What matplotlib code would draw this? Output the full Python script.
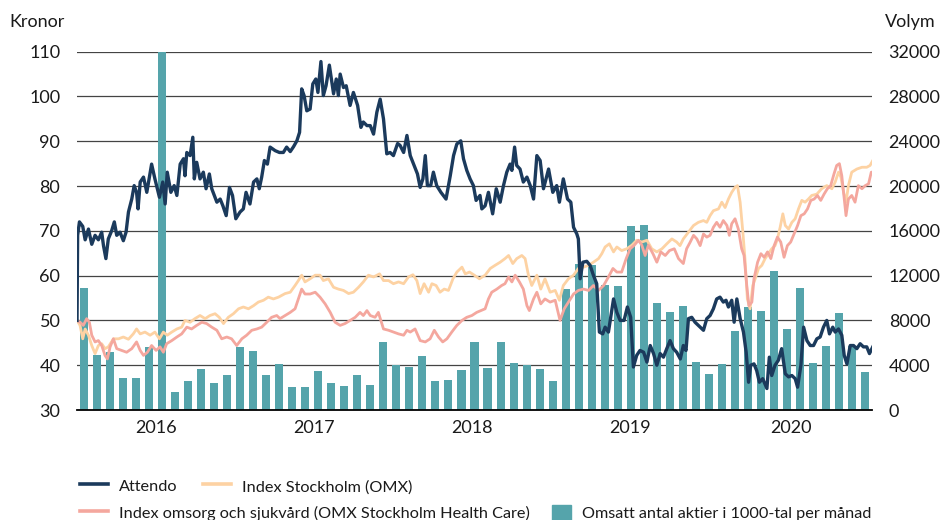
import matplotlib.pyplot as plt
import numpy as np
from matplotlib.lines import Line2D
from matplotlib.patches import Patch

plt.rcParams['font.family'] = ['Lato', 'DejaVu Sans']

# Omsatt antal aktier i 1000-tal per månad, dec 2015 - dec 2020
volym = [10870, 4910, 5180, 2880, 2880, 5620, 32000, 1610, 2590, 3660,
         2410, 3130, 5620, 5270, 3130, 4110, 2050, 2050, 3480, 2410,
         2140, 3130, 2230, 6070, 4020, 3840, 4820, 2590, 2680, 3570,
         6070, 3780, 6070, 4210, 4020, 3670, 2590, 10790, 13020, 12950,
         11160, 11100, 16430, 16520, 9580, 8780, 9290, 4290, 3210, 4110,
         7050, 9230, 8840, 12410, 7230, 10890, 4200, 5720, 8660, 5700,
         3390]

# (vecka sedan 1 dec 2015, kronor)
attendo = [
    (0, 50), (0.2, 69), (0.8, 72), (1.9, 71), (2.7, 68), (3.8, 70.4), (4.9, 67), (6.0, 69),
    (7.1, 68), (8.2, 69.7), (8.8, 66.7), (9.6, 63.8), (10.4, 68.2), (11.5, 70), (12.4, 72),
    (13.2, 69), (14.3, 69.7), (15.4, 67.8), (16.3, 69.7), (17.1, 74.2), (18.2, 77.1),
    (19.0, 80.1), (19.8, 78.6), (20.3, 74.9), (21.0, 80.9), (22.1, 82), (23.2, 78.6),
    (24.8, 84.9), (25.9, 81.6), (27.4, 77.5), (28.5, 80.9), (29.3, 76), (30.0, 83.1),
    (31.2, 78.6), (32.3, 80.1), (33.2, 77.9), (34.3, 84.9), (35.4, 86.1), (35.9, 82.3),
    (36.5, 87.5), (37.6, 86.8), (38.5, 90.9), (39.0, 81.6), (39.8, 85.3), (40.9, 81.6),
    (42.0, 83.1), (42.9, 79.4), (44.0, 82.7), (44.8, 79.4), (46.5, 76.4), (47.6, 77.1),
    (48.5, 75.6), (49.6, 73.4), (50.7, 79.7), (51.7, 77.9), (52.8, 72.7), (54.2, 74.2),
    (55.3, 74.9), (56.2, 78.6), (57.5, 76), (58.7, 80.9), (59.8, 81.6), (60.6, 79.4),
    (61.4, 82), (62.3, 85.7), (63.3, 84.9), (64.2, 88.7), (65.9, 87.9), (67.3, 87.5),
    (68.6, 87.5), (69.7, 88.7), (70.9, 87.7), (72.0, 88.8), (73.1, 90.1), (74.0, 92),
    (74.7, 101.7), (75.5, 100.2), (76.4, 96.8), (77.5, 97.2), (78.4, 102.8), (79.4, 103.9),
    (80.1, 100.9), (81.1, 107.8), (81.9, 100.2), (82.8, 102.4), (83.9, 107), (85.3, 100.6),
    (86.2, 103.9), (86.9, 100.2), (87.5, 105), (88.6, 102), (89.5, 102.4), (90.8, 98),
    (91.9, 100.9), (93.3, 98), (94.4, 93.1), (95.2, 94.3), (96.4, 93.5), (97.5, 93.5),
    (98.6, 91.6), (99.7, 96.5), (100.8, 99.4), (101.9, 95), (103.0, 87.2), (104.1, 87.5),
    (105.2, 86.8), (106.6, 89.5), (107.4, 89.1), (108.6, 87.5), (109.7, 91.3), (110.8, 86.8),
    (112.1, 84.6), (113.2, 82.7), (114.1, 79.7), (115.0, 81.6), (115.8, 86.8), (116.5, 80.1),
    (117.6, 80.1), (118.5, 83.1), (119.6, 80.1), (121.0, 78.6), (122.7, 77.1), (124.1, 82.3),
    (125.2, 86.8), (126.3, 89.4), (127.6, 90.1), (128.5, 86.1), (129.6, 83.5), (130.7, 81.6),
    (131.8, 80.1), (132.7, 76.8), (134.0, 77.9), (134.6, 74.9), (135.7, 75.6), (136.8, 78.6),
    (138.2, 73.8), (139.4, 79.4), (140.7, 76.4), (141.8, 80.1), (142.9, 83.1), (144.0, 84.9),
    (144.6, 83.5), (145.5, 88.7), (146.2, 84.6), (147.3, 83.8), (148.4, 80.9), (149.6, 82),
    (150.7, 80.1), (151.8, 77.1), (152.9, 86.8), (154.0, 85.7), (155.1, 79.4), (156.8, 83.8),
    (158.2, 78.6), (159.5, 80.1), (160.4, 76.4), (161.7, 81.6), (163.1, 77.1), (164.2, 76.4),
    (165.1, 70.8), (166.2, 69.3), (166.7, 68.2), (167.3, 59.3), (168.2, 63), (169.5, 63.2),
    (170.6, 62.3), (171.7, 60.1), (172.8, 58.2), (173.7, 47.4), (174.8, 47), (175.6, 48.5),
    (176.7, 47.4), (178.4, 54.8), (179.5, 51.8), (180.6, 50), (181.9, 50), (183.0, 53),
    (184.1, 50.7), (185.0, 39.6), (186.1, 42.2), (187.2, 43.3), (188.4, 42.9), (189.5, 40.7),
    (190.6, 44.4), (191.7, 42.6), (192.8, 40), (193.9, 42.6), (195.0, 41.8), (196.1, 43.7),
    (197.2, 45.5), (198.3, 43.7), (199.4, 42.9), (200.6, 41.4), (201.6, 44.4), (202.5, 43.3),
    (203.3, 50.4), (204.4, 50.7), (205.5, 49.6), (206.6, 48.9), (208.3, 47.8), (209.4, 50.4),
    (210.5, 51.1), (211.6, 52.6), (212.7, 54.8), (213.8, 55.2), (214.9, 54.1), (215.8, 54.5),
    (216.6, 53), (217.7, 54.5), (218.5, 49.6), (219.4, 54.8), (220.5, 50.4), (221.6, 47.4),
    (222.5, 42.9), (223.3, 36.2), (224.0, 40), (225.1, 40.3), (226.0, 38.8), (226.9, 36.2),
    (228.0, 37), (229.4, 34.8), (230.2, 41.8), (231.0, 37.7), (232.1, 40), (233.2, 41.1),
    (234.3, 43.7), (235.5, 38.1), (236.6, 37.4), (237.7, 37.7), (238.8, 37), (239.6, 35.1),
    (240.7, 40), (241.6, 48.5), (242.7, 45.5), (243.8, 44.4), (244.9, 44.4), (246.0, 45.9),
    (247.1, 46.3), (248.2, 48.5), (249.3, 50), (250.2, 47), (251.3, 48.5), (252.1, 47.4),
    (253.2, 48.1), (254.3, 46.7), (255.1, 42.2), (256.0, 40.3), (257.1, 44.4), (258.2, 44.4),
    (259.3, 43.7), (260.4, 44.8), (261.5, 44.1), (262.6, 44.1), (263.5, 42.6), (264.6, 44.1),
]

omx = [
    (0, 50), (1.0, 48.9), (1.9, 45.9), (2.7, 48.1), (3.8, 46.7), (4.9, 44.4), (6.0, 42.6),
    (7.1, 44.4), (8.2, 44.8), (9.3, 43.7), (10.4, 44.1), (12.1, 45.9), (13.8, 45.9),
    (15.4, 46.3), (17.1, 45.8), (18.7, 47), (19.8, 48.1), (21.0, 47), (22.6, 47.4),
    (24.3, 46.7), (25.9, 47.4), (27.4, 45.9), (28.7, 47.4), (30.0, 46.7), (31.5, 47.4),
    (33.2, 48.1), (34.8, 48.5), (35.9, 50), (37.6, 49.6), (39.2, 50.4), (40.9, 51.1),
    (42.6, 50.4), (44.2, 51.1), (45.9, 51.5), (47.3, 50.7), (48.7, 49.3), (50.3, 50.7),
    (52.0, 51.5), (53.7, 52.6), (55.3, 53), (57.0, 52.6), (58.7, 53.3), (60.3, 54.1),
    (62.0, 54.5), (63.6, 55.2), (65.3, 54.8), (67.0, 55.2), (69.2, 56), (70.9, 56.3),
    (72.5, 57.8), (73.6, 58.9), (74.7, 60.1), (75.8, 58.6), (77.5, 59.3), (79.2, 60.1),
    (80.8, 60.1), (81.9, 58.9), (83.6, 59.3), (85.3, 57.4), (86.9, 57), (88.6, 56.7),
    (90.3, 56), (91.9, 56.3), (93.6, 57.4), (95.2, 58.6), (96.9, 60.1), (98.6, 59.7),
    (100.6, 60.4), (101.9, 58.9), (103.6, 58.9), (105.2, 58.2), (106.9, 58.6), (108.6, 58.2),
    (110.2, 59.7), (111.7, 60.2), (113.0, 58.9), (114.1, 56), (115.4, 58.2), (116.9, 56.3),
    (118.0, 58.2), (119.4, 57.8), (120.7, 56.3), (122.1, 57), (123.5, 56.7), (125.0, 59.3),
    (126.3, 60.8), (128.0, 61.9), (129.1, 60.4), (130.5, 60.8), (132.1, 60.1), (133.8, 59.3),
    (135.7, 60.1), (137.4, 61.6), (139.0, 62.3), (140.7, 63), (142.3, 63.8), (143.5, 64.5),
    (144.9, 62.7), (146.2, 63.8), (147.9, 64.5), (149.0, 63.8), (150.1, 60.1), (151.2, 57.8),
    (152.9, 60.1), (154.2, 57), (155.6, 59.3), (157.3, 56.3), (159.0, 56.7), (160.4, 54.5),
    (161.7, 57.8), (163.4, 59.3), (165.1, 60.1), (166.7, 61.6), (168.4, 61.9), (170.1, 62.3),
    (171.7, 63), (173.4, 63.8), (174.5, 64.9), (175.6, 66.4), (177.0, 67.1), (178.4, 65.3),
    (179.5, 66.4), (181.1, 65.6), (182.8, 66), (184.5, 66.8), (186.1, 67.9), (187.8, 67.5),
    (189.5, 67.9), (191.1, 66), (192.8, 65.3), (194.5, 66), (196.1, 67.1), (197.8, 68.2),
    (199.4, 67.5), (200.5, 66.7), (201.6, 68.2), (203.3, 69.7), (205.0, 71.2), (206.6, 71.9),
    (208.3, 72.3), (209.4, 71.9), (210.5, 73.4), (211.6, 74.5), (213.3, 74.9), (214.4, 76.4),
    (215.5, 75.2), (216.6, 77.1), (217.7, 78.6), (218.8, 79.7), (219.6, 80.1), (220.5, 76.4),
    (221.4, 69.7), (222.1, 63.8), (222.9, 54.8), (223.8, 52.6), (224.7, 57.8), (225.5, 59.3),
    (226.6, 61.6), (227.7, 62.3), (228.8, 63.8), (229.9, 64.9), (231.0, 66), (232.1, 66.7),
    (232.9, 68.2), (233.8, 70.8), (234.7, 73.8), (235.5, 71.2), (236.6, 70.4), (237.7, 71.9),
    (238.8, 72.7), (239.9, 74.9), (241.0, 76.8), (242.1, 76.4), (243.2, 77.1), (244.3, 77.9),
    (246.0, 78.2), (247.6, 79.4), (249.3, 80.1), (251.0, 79.4), (252.1, 80.9), (253.2, 83.1),
    (254.0, 82), (254.9, 78.6), (255.7, 76.4), (256.5, 80.1), (257.6, 83.1), (259.3, 83.8),
    (261.0, 84.2), (262.6, 84.2), (263.7, 84.6), (264.6, 85.7),
]

halsovard = [
    (0, 50), (1.0, 49.6), (2.1, 48.9), (3.2, 50.4), (4.1, 49.6), (4.9, 46.7), (6.0, 45.2),
    (7.1, 45.5), (8.2, 44.4), (9.3, 42.2), (10.1, 41.4), (11.0, 44.1), (12.1, 45.9),
    (13.2, 43.7), (14.9, 43.3), (16.5, 42.9), (18.2, 43.7), (19.8, 45.2), (21.0, 43.3),
    (22.1, 42.2), (23.4, 42.9), (24.8, 44.4), (26.3, 43.3), (27.6, 44.1), (28.7, 42.9),
    (29.8, 44.8), (31.5, 45.5), (33.2, 46.3), (34.8, 47), (36.5, 48.5), (38.1, 48.1),
    (39.8, 48.9), (41.5, 49.6), (43.1, 49.3), (44.8, 48.5), (46.5, 47.8), (48.1, 45.9),
    (49.8, 46.3), (51.4, 45.9), (53.1, 44.4), (54.8, 45.9), (56.4, 46.7), (58.1, 47.8),
    (59.8, 48.1), (61.4, 48.5), (63.1, 49.6), (64.7, 50.7), (66.4, 51.1), (67.5, 50.4),
    (69.2, 51.1), (70.9, 51.8), (72.5, 52.6), (73.6, 54.8), (74.7, 57), (75.8, 55.9),
    (77.5, 55.9), (79.2, 56.3), (80.8, 55.2), (82.5, 53.7), (84.2, 51.8), (85.8, 49.6),
    (87.5, 48.9), (89.1, 49.3), (90.8, 50), (92.5, 50.7), (94.1, 51.8), (95.2, 51.1),
    (96.4, 52.2), (97.5, 51.1), (99.1, 50.7), (100.2, 51.8), (101.9, 48.1), (103.6, 47.8),
    (105.2, 47.4), (106.9, 47), (108.6, 46.7), (109.7, 47.8), (110.8, 47.4), (112.4, 48.1),
    (114.1, 45.5), (115.8, 45.2), (117.4, 45.9), (118.8, 47.8), (120.2, 46.3), (121.6, 45.2),
    (123.0, 45.9), (124.6, 47.4), (126.3, 48.9), (128.0, 50), (129.6, 50.7), (131.3, 51.1),
    (132.9, 51.8), (135.7, 52.6), (136.8, 54.8), (137.9, 56.3), (139.6, 57), (141.2, 57.8),
    (142.3, 58.2), (143.5, 59.7), (144.6, 58.6), (145.7, 60.1), (147.1, 58.6), (148.4, 57),
    (149.6, 53.3), (150.4, 52.2), (151.8, 54.8), (152.9, 56.3), (154.2, 53.7), (155.6, 54.8),
    (157.3, 54.1), (159.0, 54.5), (160.6, 50), (162.0, 52.6), (163.4, 54.1), (165.1, 55.9),
    (166.7, 56.7), (168.4, 57), (170.1, 56.7), (171.7, 57.8), (173.4, 56.7), (175.1, 57.8),
    (176.7, 59.7), (178.2, 61.6), (179.5, 60.8), (181.1, 60.8), (182.6, 63.8), (183.9, 66),
    (185.3, 66.8), (186.7, 67.9), (187.8, 66.8), (188.9, 64.5), (190.0, 66.8), (191.5, 64.9),
    (192.8, 63), (194.1, 65.3), (195.6, 64.5), (197.0, 65.6), (198.6, 66), (200.0, 63.8),
    (201.6, 62.7), (202.7, 66), (203.9, 67.5), (205.0, 69), (206.1, 68.2), (207.2, 66.7),
    (208.3, 69.3), (209.4, 68.6), (210.5, 69), (211.6, 70.8), (212.7, 71.9), (213.8, 70.8),
    (214.9, 72.3), (216.1, 71.2), (216.9, 69), (217.7, 71.6), (218.8, 72.7), (219.9, 70.4),
    (221.0, 66), (221.8, 64.5), (222.7, 57.8), (223.4, 53.3), (224.4, 54.1), (225.1, 59.3),
    (226.3, 63), (227.4, 64.9), (228.5, 64.1), (229.6, 65.3), (230.7, 63.8), (231.8, 66.7),
    (232.9, 68.6), (234.0, 67.5), (235.1, 64.1), (236.2, 66.7), (237.3, 67.5), (238.4, 69.3),
    (239.6, 71.2), (240.7, 73.4), (241.8, 73.8), (242.9, 74.9), (244.0, 76.8), (245.1, 77.1),
    (246.2, 77.9), (247.3, 76.8), (248.4, 78.2), (249.5, 79.4), (250.6, 80.1), (251.7, 82.7),
    (252.6, 84.6), (253.5, 85), (254.3, 82.3), (255.1, 77.1), (255.7, 73.4), (256.5, 77.1),
    (257.6, 77.9), (258.7, 76.4), (259.8, 80.1), (261.0, 79.4), (262.1, 80.1), (263.2, 80.5),
    (264.1, 83.1), (264.6, 83.1),
]

ar = ['2016', '2017', '2018', '2019', '2020']
ar_pos = [6.05, 18.2, 30.3, 42.45, 54.8]   # i månader från dec 2015

NAVY = '#1b3a5c'
PEACH = '#fdd2a3'
SALMON = '#f4a79e'
TEAL = '#55a4ab'
TEXT = '#1a1a1a'


def to_months(series):
    w, v = zip(*series)
    return np.array(w) * 12 / 52, np.array(v)


fig = plt.figure(figsize=(9.44, 5.2), dpi=100)
ax_vol = fig.add_axes([0.0816, 0.2115, 0.8421, 0.6891])
ax = ax_vol.twinx()

# staplar + stödlinjer på volymaxeln
manad = np.arange(len(volym)) + 0.5
ax_vol.bar(manad, volym, width=0.62, color=TEAL, zorder=2)
ax_vol.set_ylim(0, 32000)
ax_vol.set_yticks(range(0, 32001, 4000))
ax_vol.yaxis.tick_right()
ax_vol.grid(axis='y', color='#444444', linewidth=0.9, zorder=0)
ax_vol.set_axisbelow(True)

# kurslinjer
x, y = to_months(omx)
ax.plot(x, y, color=PEACH, lw=2.0, zorder=3)
x, y = to_months(halsovard)
ax.plot(x, y, color=SALMON, lw=2.0, zorder=4)
x, y = to_months(attendo)
ax.plot(x, y, color=NAVY, lw=2.4, zorder=5)
ax.set_ylim(30, 110)
ax.set_yticks(range(30, 111, 10))
ax.yaxis.tick_left()

ax_vol.set_xlim(0, len(volym))
ax_vol.set_xticks(ar_pos)
ax_vol.set_xticklabels(ar)

for a in (ax, ax_vol):
    for s in a.spines.values():
        s.set_visible(False)
    a.tick_params(length=0, labelsize=13, colors=TEXT)
ax_vol.spines['bottom'].set_visible(True)
ax_vol.spines['bottom'].set_color('black')
ax_vol.spines['bottom'].set_linewidth(1.3)
ax.tick_params(axis='y', pad=12)
ax_vol.tick_params(axis='y', pad=12)
ax_vol.tick_params(axis='x', pad=7)

fig.text(0.010, 0.958, 'Kronor', fontsize=13, color=TEXT, va='center')
fig.text(0.9375, 0.958, 'Volym', fontsize=13, color=TEXT, va='center', ha='left')

# teckenförklaring, en post i taget
poster = [
    (Line2D([], [], color=NAVY, lw=2.6), 'Attendo', 0.0847, 0.0654, 1.7),
    (Line2D([], [], color=PEACH, lw=2.6), 'Index Stockholm (OMX)', 0.2150, 0.0654, 1.7),
    (Line2D([], [], color=SALMON, lw=2.6), 'Index omsorg och sjukvård (OMX Stockholm Health Care)',
     0.0847, 0.0135, 1.7),
    (Patch(color=TEAL), 'Omsatt antal aktier i 1000-tal per månad', 0.5848, 0.0135, 1.15),
]
for h, txt, lx, ly, hl in poster:
    fig.legend([h], [txt], loc='center left', bbox_to_anchor=(lx, ly), frameon=False,
               fontsize=11.7, borderpad=0, borderaxespad=0, handlelength=hl,
               handleheight=1.15, handletextpad=0.7, labelcolor=TEXT)

fig.savefig('out.png', dpi=100)
